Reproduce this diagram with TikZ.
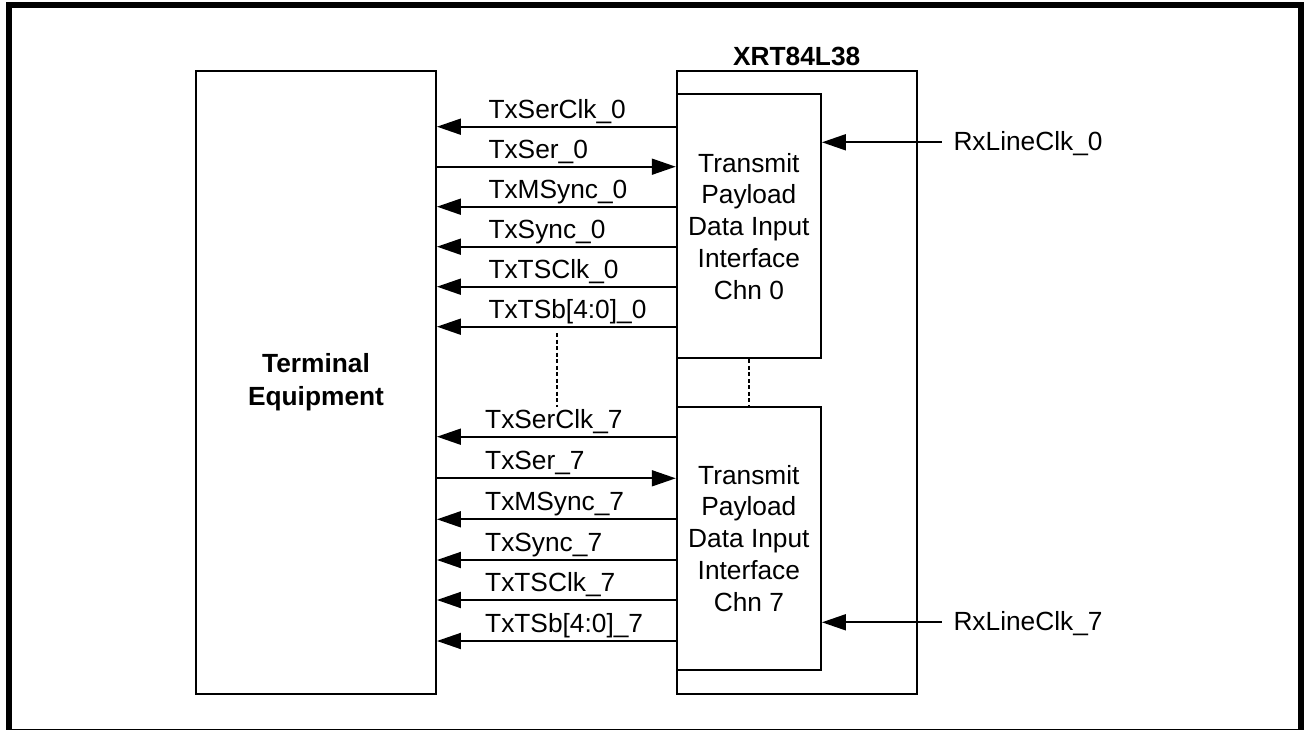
\documentclass[tikz,border=0pt]{standalone}
\usepackage{fontspec}
\setmainfont{Liberation Sans}
\usetikzlibrary{arrows.meta}

\newcommand{\sigfont}{\fontsize{26.3}{31.8}\selectfont}
\newcommand{\headfont}{\bfseries\fontsize{26.3}{33}\selectfont}

\tikzset{
  box/.style={draw, line width=1.9pt, inner sep=0pt},
  tolft/.style={line width=1.9pt, {Triangle[length=24pt,width=16pt]}-},
  torgt/.style={line width=1.9pt, -{Triangle[length=24pt,width=16pt]}},
  lbl/.style={anchor=base west, inner sep=0pt, font=\sigfont},
  dots/.style={line width=1.9pt, dash pattern=on 4pt off 2.5pt},
}

\begin{document}
\begin{tikzpicture}[x=1pt,y=-1pt]
\useasboundingbox (0,0) rectangle (1304,730);
% outer frame
\draw[line width=6pt] (9,5) rectangle (1301,732);

% terminal side
\node[box, minimum width=240pt, minimum height=623.3pt, align=center, font=\headfont] (term) at (316,382.3) {Terminal\\Equipment};

% device
\node[box, minimum width=240pt, minimum height=623.3pt] (xrt) at (796.7,382.7) {};
\node[anchor=base, inner sep=0pt, font=\headfont] (xrtname) at ([yshift=4.5pt]xrt.north) {XRT84L38};

\node[box, minimum width=144.3pt, minimum height=264pt, align=center, font=\sigfont] (chn0) at (748.85,226.3) {Transmit\\Payload\\Data Input\\Interface\\Chn 0};
\node[box, minimum width=144.3pt, minimum height=263.3pt, align=center, font=\sigfont] (chn7) at (748.85,538.35) {Transmit\\Payload\\Data Input\\Interface\\Chn 7};

% channel 0 signals
\foreach \sname/\yy/\st [count=\i] in {TxSerClk\_0/126.7/tolft, TxSer\_0/166.7/torgt, TxMSync\_0/206.7/tolft, TxSync\_0/246.7/tolft, TxTSClk\_0/286.7/tolft, TxTSb[4:0]\_0/326.7/tolft}{
  \draw[\st] (term.east |- 0,\yy) -- (chn0.west |- 0,\yy);
  \node[lbl] (a\i) at (488.3,\yy-8.4) {\sname};
}

% channel 7 signals
\foreach \sname/\yy/\st [count=\i] in {TxSerClk\_7/436.7/tolft, TxSer\_7/478.3/torgt, TxMSync\_7/519.3/tolft, TxSync\_7/560/tolft, TxTSClk\_7/600/tolft, TxTSb[4:0]\_7/641/tolft}{
  \draw[\st] (term.east |- 0,\yy) -- (chn7.west |- 0,\yy);
  \node[lbl] (b\i) at (485,\yy-8.4) {\sname};
}

% line clocks
\coordinate (rx0) at (941.7,142.3);
\coordinate (rx7) at (941.7,622.3);
\draw[torgt] (rx0) -- (chn0.east |- rx0);
\draw[torgt] (rx7) -- (chn7.east |- rx7);
\node[lbl] (rx0l) at (953.3,150.7) {RxLineClk\_0};
\node[lbl] (rx7l) at (953.3,630.7) {RxLineClk\_7};

% channels 1..6 left out
\coordinate (dtop) at (556.7,333);
\coordinate (dbot) at (556.7,406.7);
\draw[dots] (dtop) -- (dbot);
\draw[dots] (chn0.south) -- (chn7.north);
\end{tikzpicture}
\end{document}
